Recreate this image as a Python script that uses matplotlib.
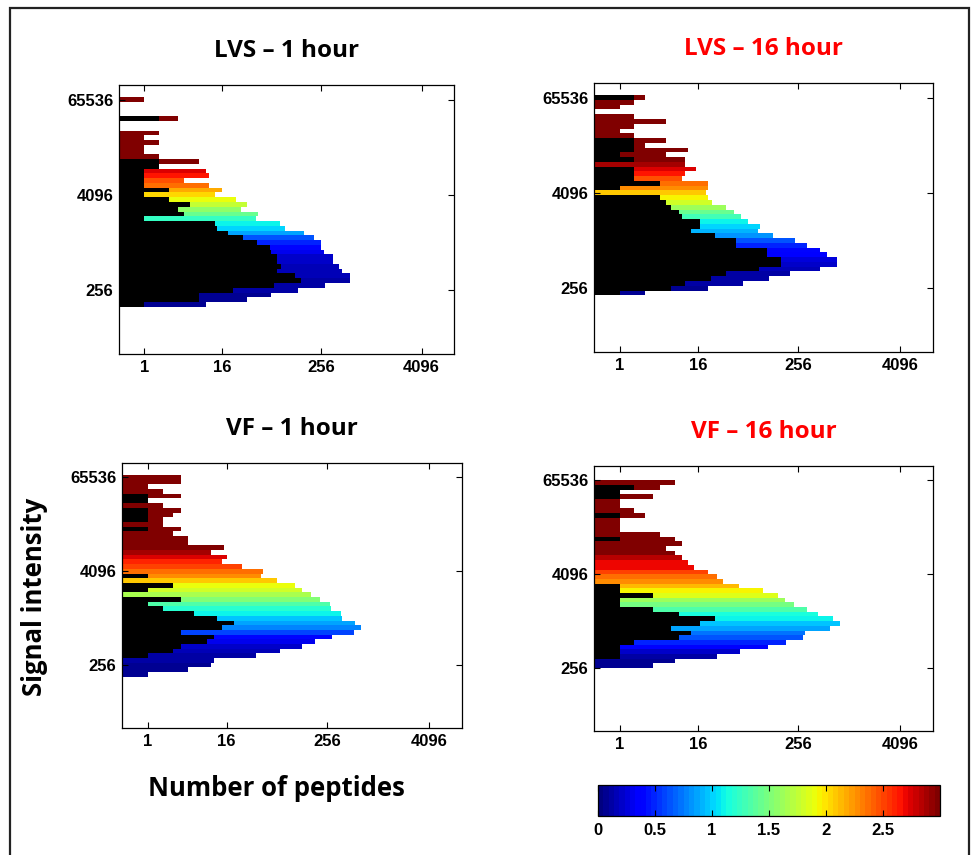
import numpy as np
import matplotlib
matplotlib.use('Agg')
import matplotlib.pyplot as plt
from matplotlib.colors import Normalize
from matplotlib.cm import ScalarMappable
from matplotlib.patches import Rectangle
from matplotlib.ticker import NullLocator

# Histogram bins are 0.2 wide in log2(signal intensity); lists run from the lowest bin upwards.
bin_width = 0.2

# LVS - 1 hour (lowest bin edge at log2 = 7.3)
lvs1_low = 7.3
lvs1_total = [10, 33, 64, 135, 290, 580, 580, 460, 420, 360, 360, 280, 260, 255, 210,
              160, 95, 83, 42, 45, 28, 33, 24, 13, 16, 11, 5, 11, 10, 2,
              8, 2, 1, 1, 2, 1, 2, 0, 0, 4, 0, 0, 0, 1]
lvs1_black = [1, 8, 8, 22, 70, 150, 125, 75, 84, 77, 75, 65, 62, 44, 29,
              19, 14, 13, 1, 5, 4, 6, 3, 1, 3, 1, 1, 1, 1, 2,
              2, 0, 0, 0, 0, 0, 0, 0, 0, 2, 0, 0, 0, 0]
lvs1_colour = [0.05, 0.07, 0.09, 0.1, 0.12, 0.14, 0.15, 0.17, 0.18, 0.2, 0.22, 0.3, 0.4, 0.5, 0.65,
               0.85, 1.0, 1.1, 1.25, 1.45, 1.55, 1.75, 1.9, 2.05, 2.2, 2.35, 2.45, 2.65, 2.72, 2.95,
               3.0, 3.0, 3.0, 3.0, 3.0, 3.0, 3.0, 3.0, 3.0, 3.0, 3.0, 3.0, 3.0, 3.0]

# LVS - 16 hour (lowest bin edge at log2 = 7.7)
lvs16_low = 7.7
lvs16_total = [3, 21, 56, 114, 206, 457, 745, 737, 560, 467, 323, 236, 130, 84, 90,
               65, 54, 44, 35, 24, 21, 20, 21, 21, 10, 11, 15, 11, 11, 6,
               12, 3, 6, 2, 1, 2, 6, 2, 0, 1, 2, 3]
lvs16_black = [1, 7, 11, 23, 35, 87, 160, 160, 108, 108, 46, 46, 26, 13, 17,
               17, 10, 9, 7, 6, 5, 0, 1, 5, 2, 2, 2, 0, 2, 1,
               2, 2, 2, 0, 0, 0, 0, 0, 0, 0, 0, 2]
lvs16_colour = [0.06, 0.08, 0.1, 0.12, 0.14, 0.17, 0.2, 0.25, 0.33, 0.4, 0.5, 0.62, 0.8, 0.9, 1.0,
                1.1, 1.3, 1.45, 1.6, 1.8, 1.95, 2.1, 2.25, 2.35, 2.48, 2.65, 2.72, 2.88, 3.0, 3.0,
                3.0, 3.0, 3.0, 3.0, 3.0, 3.0, 3.0, 3.0, 3.0, 3.0, 3.0, 3.0]

# VF - 1 hour (lowest bin edge at log2 = 7.5)
vf1_low = 7.5
vf1_total = [1, 5, 10, 11, 37, 71, 130, 186, 292, 535, 648, 548, 384, 373, 287,
             277, 210, 167, 130, 108, 66, 42, 44, 25, 14, 16, 10, 15, 5, 5,
             3, 4, 2, 2, 3, 4, 2, 1, 4, 2, 1, 4, 4]
vf1_black = [0, 0, 0, 0, 1, 3, 4, 9, 11, 4, 14, 20, 12, 6, 2,
             1, 4, 0, 1, 3, 0, 1, 0, 0, 0, 0, 0, 0, 0, 0,
             0, 1, 0, 1, 1, 1, 0, 1, 1, 0, 0, 0, 0]
vf1_colour = [0.05, 0.06, 0.08, 0.1, 0.12, 0.15, 0.22, 0.3, 0.42, 0.58, 0.75, 0.88, 0.98, 1.08, 1.18,
              1.35, 1.5, 1.68, 1.8, 1.9, 2.08, 2.25, 2.35, 2.5, 2.62, 2.72, 2.88, 3.0, 3.0, 3.0,
              3.0, 3.0, 3.0, 3.0, 3.0, 3.0, 3.0, 3.0, 3.0, 3.0, 3.0, 3.0, 3.0]

# VF - 16 hour (lowest bin edge at log2 = 8.0)
vf16_low = 8.0
vf16_total = [4, 8, 27, 52, 112, 183, 290, 308, 602, 792, 652, 433, 323, 230, 178,
              148, 98, 50, 32, 27, 21, 14, 12, 10, 8, 6, 10, 8, 5, 1,
              1, 1, 3, 2, 1, 1, 4, 1, 5, 8]
vf16_black = [0, 0, 1, 1, 1, 2, 9, 13, 7, 17, 26, 9, 4, 1, 1,
              4, 1, 1, 0, 0, 0, 0, 0, 0, 0, 0, 0, 1, 0, 0,
              0, 0, 1, 0, 0, 0, 1, 1, 2, 0]
vf16_colour = [0.05, 0.08, 0.12, 0.22, 0.35, 0.49, 0.64, 0.71, 0.86, 0.98, 1.08, 1.15, 1.33, 1.47, 1.6,
               1.83, 1.96, 2.13, 2.25, 2.37, 2.49, 2.68, 2.71, 2.84, 3.0, 3.0, 3.0, 3.0, 3.0, 3.0,
               3.0, 3.0, 3.0, 3.0, 3.0, 3.0, 3.0, 3.0, 3.0, 3.0]

titles = ['LVS \u2013 1 hour', 'LVS \u2013 16 hour', 'VF \u2013 1 hour', 'VF \u2013 16 hour']
title_colours = ['black', 'red', 'black', 'red']
x_ticks = [1, 16, 256, 4096]
y_ticks = [256, 4096, 65536]
cbar_ticks = [0, 0.5, 1, 1.5, 2, 2.5]

W, H = 972, 855


def px_rect(left, top, right, bottom):
    return [left / W, 1 - bottom / H, (right - left) / W, (bottom - top) / H]


def fwd(x):
    return np.log2(np.clip(np.asarray(x, dtype=float), 0, None) + 1)


def inv(y):
    return 2.0 ** np.asarray(y, dtype=float) - 1


tick_font = dict(family='Liberation Sans', weight='bold', size=12)
label_font = dict(family='Open Sans', weight='bold')

cmap = plt.get_cmap('jet', 64)
norm = Normalize(vmin=0, vmax=3)

fig = plt.figure(figsize=(W / 100, H / 100), dpi=100)

panels = [
    (lvs1_low, lvs1_total, lvs1_black, lvs1_colour, px_rect(119, 85, 454, 354)),
    (lvs16_low, lvs16_total, lvs16_black, lvs16_colour, px_rect(594, 83, 933, 352)),
    (vf1_low, vf1_total, vf1_black, vf1_colour, px_rect(122, 463, 462, 728)),
    (vf16_low, vf16_total, vf16_black, vf16_colour, px_rect(594, 466, 933, 731)),
]

for i, (low, total, black, colour, rect) in enumerate(panels):
    ax = fig.add_axes(rect)
    n = len(total)
    edges = 2.0 ** (low + bin_width * np.arange(n + 1))
    bottoms = edges[:-1]
    heights = np.diff(edges)
    ax.barh(bottoms, total, height=heights, align='edge',
            color=cmap(norm(np.array(colour))), linewidth=0)
    ax.barh(bottoms, black, height=heights, align='edge', color='black', linewidth=0)

    ax.set_yscale('log', base=2)
    ax.set_xscale('function', functions=(fwd, inv))
    ax.set_xlim(0, 10000)
    ax.set_ylim(40, 100000)
    ax.set_xticks(x_ticks)
    ax.set_xticklabels([str(t) for t in x_ticks], fontdict=tick_font)
    ax.set_yticks(y_ticks)
    ax.set_yticklabels([str(t) for t in y_ticks], fontdict=tick_font)
    ax.xaxis.set_minor_locator(NullLocator())
    ax.yaxis.set_minor_locator(NullLocator())
    ax.tick_params(direction='in', top=True, right=True, length=4, width=0.8, pad=4)
    for sp in ax.spines.values():
        sp.set_linewidth(0.9)
    ax.set_title(titles[i], color=title_colours[i], fontsize=17.5, pad=20, **label_font)

# colour scale
cax = fig.add_axes(px_rect(598, 785, 940, 816))
cb = fig.colorbar(ScalarMappable(norm=norm, cmap=cmap), cax=cax, orientation='horizontal',
                  ticks=cbar_ticks)
cb.ax.set_xticklabels([f'{t:g}' for t in cbar_ticks], fontdict=tick_font)
cb.ax.tick_params(direction='in', top=True, bottom=True, length=4, width=0.8, pad=5)
cb.outline.set_linewidth(0.9)

fig.text(276 / W, 1 - 788 / H, 'Number of peptides', ha='center', va='center',
         fontsize=18.5, **label_font)
fig.text(35 / W, 1 - 597 / H, 'Signal intensity', ha='center', va='center',
         rotation=90, fontsize=18.5, **label_font)

# outer frame
fig.add_artist(Rectangle((10 / W, -0.02), 959 / W, 1 - 8 / H + 0.02, transform=fig.transFigure,
                         fill=False, edgecolor='#222222', linewidth=1.6))

fig.savefig('out.png', dpi=100)
